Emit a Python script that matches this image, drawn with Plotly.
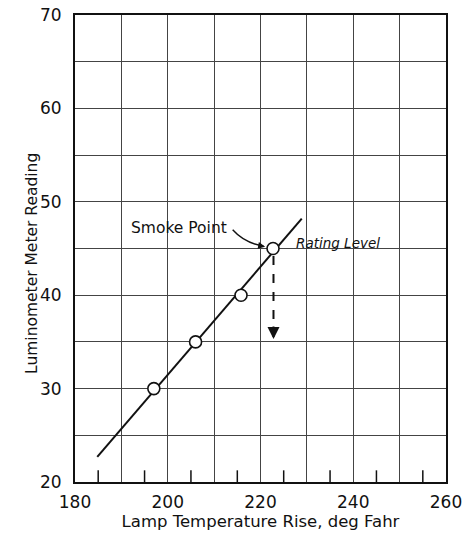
import plotly.graph_objects as go

# Data
temp_rise = [197.0, 206.0, 215.8, 222.7]
meter_reading = [30.0, 35.0, 40.0, 45.0]
fit_x = [184.8, 228.9]
fit_y = [22.7, 48.2]
rating_x = [222.8, 222.8]
rating_y = [44.2, 35.3]
x_ticks = [180, 190, 200, 210, 220, 230, 240, 250, 260]
x_labels = ["180", "", "200", "", "220", "", "240", "", "260"]
x_small_ticks = [185, 195, 205, 215, 225, 235, 245, 255]
y_ticks = [20, 25, 30, 35, 40, 45, 50, 55, 60, 65, 70]
y_labels = ["20", "", "30", "", "40", "", "50", "", "60", "", "70"]

FONT = "DejaVu Sans"
INK = "#111111"

fig = go.Figure()

fig.add_trace(go.Scatter(x=fit_x, y=fit_y, mode="lines",
                         line=dict(color=INK, width=2), showlegend=False, hoverinfo="skip"))
fig.add_trace(go.Scatter(x=rating_x, y=rating_y, mode="lines",
                         line=dict(color=INK, width=2, dash="dash"), showlegend=False, hoverinfo="skip"))
fig.add_trace(go.Scatter(x=temp_rise, y=meter_reading, mode="markers",
                         marker=dict(symbol="circle", size=12, color="white",
                                     line=dict(color=INK, width=1.6)),
                         showlegend=False))

# small inward ticks along the bottom axis
for t in x_small_ticks:
    fig.add_shape(type="line", xref="x", yref="paper", x0=t, x1=t, y0=0.0, y1=0.025,
                  line=dict(color=INK, width=1.5), layer="above")

# Arrowhead of the dashed rating arrow
fig.add_annotation(x=rating_x[1], y=rating_y[1], ax=rating_x[1], ay=rating_y[1] + 1.5,
                   xref="x", yref="y", axref="x", ayref="y", text="",
                   showarrow=True, arrowhead=2, arrowsize=1.2, arrowwidth=2, arrowcolor=INK)

# Smoke point label + curved leader
fig.add_annotation(x=202.5, y=47.2, text="Smoke Point", showarrow=False,
                   font=dict(family=FONT, size=15.5, color=INK))
fig.add_shape(type="path", xref="x", yref="y",
              path="M 214.0,47.0 Q 216.5,45.6 220.6,45.25",
              line=dict(color=INK, width=1.4))
fig.add_annotation(x=221.0, y=45.2, ax=219.3, ay=45.35, xref="x", yref="y",
                   axref="x", ayref="y", text="", showarrow=True, arrowhead=2,
                   arrowsize=1, arrowwidth=1.4, arrowcolor=INK)

fig.add_annotation(x=236.8, y=45.55, text="<i>Rating Level</i>", showarrow=False,
                   font=dict(family=FONT, size=13.5, color=INK))

# y-axis title
fig.add_annotation(xref="paper", yref="paper", x=-0.1456, y=0.469, text="Luminometer Meter Reading",
                   textangle=-90, showarrow=False, font=dict(family=FONT, size=15.5, color=INK))

fig.update_layout(
    width=469, height=535,
    margin=dict(l=75, r=23, t=15, b=53),
    paper_bgcolor="white", plot_bgcolor="white",
    font=dict(family=FONT, color=INK),
)
fig.update_xaxes(
    range=[180, 260], tickvals=x_ticks, ticktext=x_labels,
    showgrid=True, gridcolor="#444444", gridwidth=1,
    showline=True, linecolor=INK, linewidth=2, mirror=True,
    ticks="", ticklabelstandoff=4, automargin=False,
    tickfont=dict(family=FONT, size=17, color=INK),
    title=dict(text="Lamp Temperature Rise, deg Fahr", font=dict(family=FONT, size=16.5, color=INK), standoff=3),
    zeroline=False,
)
fig.update_yaxes(
    range=[20, 70], tickvals=y_ticks, ticktext=y_labels,
    showgrid=True, gridcolor="#444444", gridwidth=1,
    showline=True, linecolor=INK, linewidth=2, mirror=True,
    ticks="", ticklabelstandoff=8, automargin=False, tickfont=dict(family=FONT, size=17, color=INK),
    zeroline=False,
)

fig.write_html("out.html")
